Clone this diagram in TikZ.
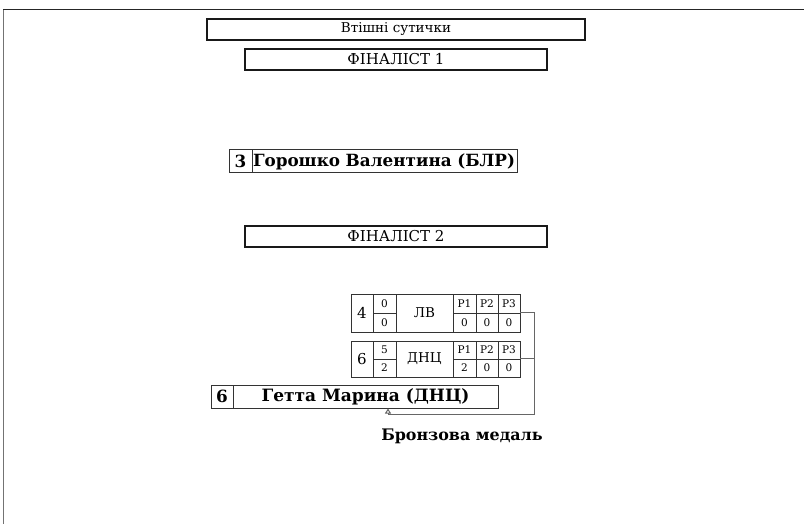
\documentclass[tikz,border=0pt]{standalone}
\usepackage{fontspec}
\setmainfont{DejaVu Serif}
\usetikzlibrary{arrows.meta}
\tikzset{
  frameline/.style={line width=1pt},
  thickbox/.style={draw=black!90, line width=2.4pt, rectangle, inner sep=0pt, font=\fontsize{13.5}{15}\selectfont},
  finbox/.style={thickbox, minimum width=301.6pt, minimum height=20.6pt, font=\fontsize{15}{16}\selectfont},
  namebox/.style={draw=black!80, line width=1pt, rectangle, inner sep=0pt},
  cell/.style={draw=black!80, line width=0.9pt, rectangle, inner sep=0pt},
  bigtxt/.style={font=\bfseries\fontsize{16.8}{18}\selectfont},
  smalltxt/.style={font=\fontsize{10.5}{12}\selectfont},
  conn/.style={draw=black!60, line width=1pt},
}
\begin{document}
\begin{tikzpicture}[x={(1pt,0pt)}, y={(0pt,-1pt)}]
\useasboundingbox (0,0) rectangle (804,524);
% frame
\draw[frameline, black!55] (3,524) -- (3,10);
\draw[frameline, black!85] (3,10) -- (804,10);
% header boxes
\node[thickbox, minimum width=377.6pt, minimum height=20.6pt] (vt) at (396,29.5) {Втішні сутички};
\node[finbox] (f1) at (396,59.5) {ФІНАЛІСТ 1};
\node[finbox] (f2) at (396,236.5) {ФІНАЛІСТ 2};
% finalist 1
\node[namebox, bigtxt, minimum width=23pt, minimum height=23pt] (g3) at (240.5,161.5) {3};
\node[namebox, bigtxt, minimum width=265pt, minimum height=23pt, text width=263pt, inner xsep=1pt, align=left] (gname) at (384.5,161.5) {Горошко Валентина (БЛР)};
% match 1
\node[cell, minimum width=22pt, minimum height=38pt, font=\fontsize{15}{17}\selectfont] (t1n) at (362,313) {4};
\node[cell, smalltxt, minimum width=23pt, minimum height=19pt] (t1sa) at (384.5,303.5) {0};
\node[cell, smalltxt, minimum width=23pt, minimum height=19pt] (t1sb) at (384.5,322.5) {0};
\node[cell, minimum width=57pt, minimum height=38pt, font=\fontsize{13.5}{15}\selectfont] (t1t) at (424.5,313) {ЛВ};
\node[cell, smalltxt, minimum width=23pt, minimum height=19pt] (t1p1a) at (464.5,303.5) {P1};
\node[cell, smalltxt, minimum width=22pt, minimum height=19pt] (t1p2a) at (487,303.5) {P2};
\node[cell, smalltxt, minimum width=22pt, minimum height=19pt] (t1p3a) at (509,303.5) {P3};
\node[cell, smalltxt, minimum width=23pt, minimum height=19pt] (t1p1b) at (464.5,322.5) {0};
\node[cell, smalltxt, minimum width=22pt, minimum height=19pt] (t1p2b) at (487,322.5) {0};
\node[cell, smalltxt, minimum width=22pt, minimum height=19pt] (t1p3b) at (509,322.5) {0};
% match 2
\node[cell, minimum width=22pt, minimum height=36pt, font=\fontsize{15}{17}\selectfont] (t2n) at (362,359) {6};
\node[cell, smalltxt, minimum width=23pt, minimum height=18pt] (t2sa) at (384.5,350) {5};
\node[cell, smalltxt, minimum width=23pt, minimum height=18pt] (t2sb) at (384.5,368) {2};
\node[cell, minimum width=57pt, minimum height=36pt, font=\fontsize{13.5}{15}\selectfont] (t2t) at (424.5,359) {ДНЦ};
\node[cell, smalltxt, minimum width=23pt, minimum height=18pt] (t2p1a) at (464.5,350) {P1};
\node[cell, smalltxt, minimum width=22pt, minimum height=18pt] (t2p2a) at (487,350) {P2};
\node[cell, smalltxt, minimum width=22pt, minimum height=18pt] (t2p3a) at (509,350) {P3};
\node[cell, smalltxt, minimum width=23pt, minimum height=18pt] (t2p1b) at (464.5,368) {2};
\node[cell, smalltxt, minimum width=22pt, minimum height=18pt] (t2p2b) at (487,368) {0};
\node[cell, smalltxt, minimum width=22pt, minimum height=18pt] (t2p3b) at (509,368) {0};
% bronze winner
\node[namebox, bigtxt, minimum width=22pt, minimum height=23pt] (h6) at (222,396.5) {6};
\node[namebox, font=\bfseries\fontsize{17}{18}\selectfont, minimum width=265pt, minimum height=23pt] (hname) at (365.5,396.5) {Гетта Марина (ДНЦ)};
\node[font=\bfseries\fontsize{15.9}{17}\selectfont, inner sep=0pt] (bronze) at (462,436) {Бронзова медаль};
% connectors
\coordinate (jr) at (534,414);
\coordinate (ja) at (388,414);
\draw[conn, -{Triangle[open, width=6pt, length=5pt]}] (t1p3b.north east) -| (jr) -- (ja) -- (ja |- hname.south);
\draw[conn] (t2p3b.north east) -- (t2p3b.north east -| jr);
\end{tikzpicture}
\end{document}
